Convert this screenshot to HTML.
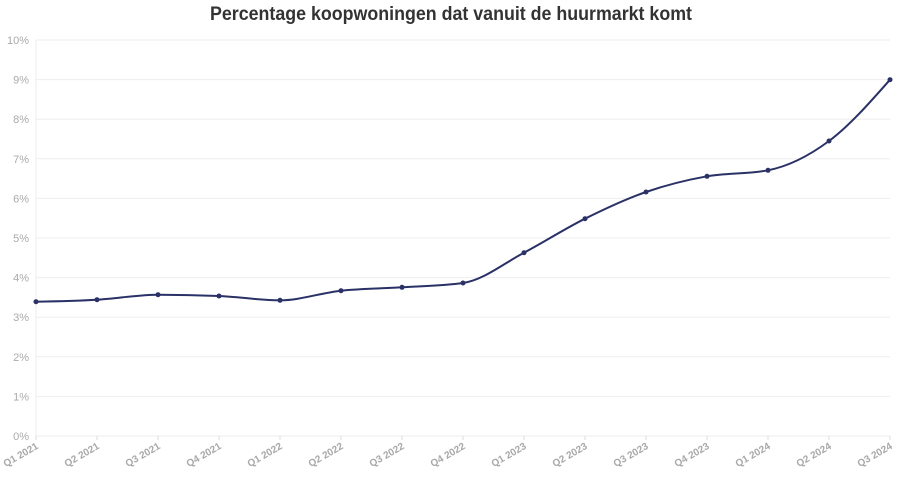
<!DOCTYPE html>
<html><head><meta charset="utf-8">
<style>
html,body{margin:0;padding:0;background:#fff;}
svg{display:block;}
</style></head>
<body>
<svg id="c" width="904" height="482" xmlns="http://www.w3.org/2000/svg" font-family="'Liberation Sans', sans-serif">
<rect width="904" height="482" fill="#fff"/>
<text x="451" y="20" text-anchor="middle" font-size="19" font-weight="bold" fill="#333" textLength="482" lengthAdjust="spacingAndGlyphs">Percentage koopwoningen dat vanuit de huurmarkt komt</text>
<g id="grid" stroke="#eeeeee" stroke-width="1"></g>
<g id="ylab" font-size="11" fill="#aaaaaa" text-anchor="end"></g>
<g id="xlab" font-size="10" font-weight="bold" fill="#a8a8a8" text-anchor="end"></g>
<path id="line" fill="none" stroke="#2a3166" stroke-width="2" stroke-linejoin="round"/>
<g id="dots" fill="#2a3166"></g>
</svg>
<script>
(function(){
var NS="http://www.w3.org/2000/svg";
function el(t,a,txt){var e=document.createElementNS(NS,t);for(var k in a)e.setAttribute(k,a[k]);if(txt!=null)e.textContent=txt;return e;}
var y0=436,step=39.6,x0=36,xs=61,x1=890;
var grid=document.getElementById('grid'),ylab=document.getElementById('ylab'),xlab=document.getElementById('xlab');
for(var i=0;i<=10;i++){
  var y=y0-i*step;
  grid.appendChild(el('line',{x1:x0,x2:x1,y1:y.toFixed(1),y2:y.toFixed(1)}));
  ylab.appendChild(el('text',{x:29,y:(y+4).toFixed(1)},i+'%'));
}
grid.appendChild(el('line',{x1:x0,x2:x0,y1:y0-10*step,y2:y0}));
var labels=["Q1 2021","Q2 2021","Q3 2021","Q4 2021","Q1 2022","Q2 2022","Q3 2022","Q4 2022","Q1 2023","Q2 2023","Q3 2023","Q4 2023","Q1 2024","Q2 2024","Q3 2024"];
var ys=[301.7,299.7,294.7,296,300.3,290.7,287.3,283,252.7,218.7,192,176.3,170.3,141,79.7];
var pts=[];
for(var i=0;i<labels.length;i++){
  var x=x0+i*xs;
  grid.appendChild(el('line',{x1:x,x2:x,y1:y0,y2:y0+4,stroke:'#dddddd'}));
  xlab.appendChild(el('text',{x:0,y:0,transform:'translate('+(x+3)+','+(y0+12)+') rotate(-30)'},labels[i]));
  pts.push([x,ys[i]]);
}
// monotoneX (d3)
function sign(x){return x<0?-1:1;}
var n=pts.length,t=[];
function slope3(i){var h0=pts[i][0]-pts[i-1][0],h1=pts[i+1][0]-pts[i][0];
 var s0=(pts[i][1]-pts[i-1][1])/h0,s1=(pts[i+1][1]-pts[i][1])/h1,p=(s0*h1+s1*h0)/(h0+h1);
 return (sign(s0)+sign(s1))*Math.min(Math.abs(s0),Math.abs(s1),0.5*Math.abs(p))||0;}
for(var i=1;i<n-1;i++)t[i]=slope3(i);
function slope2(i,tt,j){var h=pts[j][0]-pts[i][0];return h?(3*(pts[j][1]-pts[i][1])/h-tt)/2:tt;}
t[0]=slope2(0,t[1],1);t[n-1]=slope2(n-2,t[n-2],n-1);
var d='M'+pts[0][0]+','+pts[0][1];
for(var i=0;i<n-1;i++){var dx=(pts[i+1][0]-pts[i][0])/3;
 d+='C'+(pts[i][0]+dx)+','+(pts[i][1]+dx*t[i])+','+(pts[i+1][0]-dx)+','+(pts[i+1][1]-dx*t[i+1])+','+pts[i+1][0]+','+pts[i+1][1];}
document.getElementById('line').setAttribute('d',d);
var dots=document.getElementById('dots');
pts.forEach(function(p){dots.appendChild(el('circle',{cx:p[0],cy:p[1],r:2.5}));});
})();
</script>
</body></html>
